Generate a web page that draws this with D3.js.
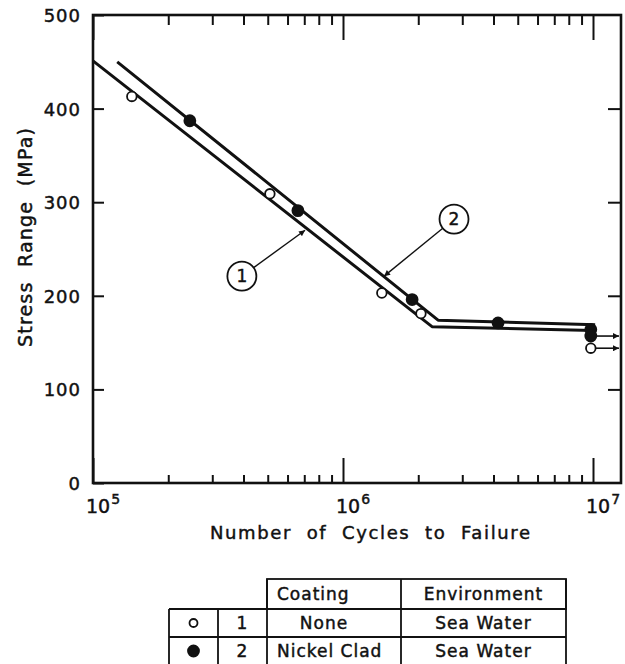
<!DOCTYPE html>
<html>
<head>
<meta charset="utf-8">
<script src="https://cdn.jsdelivr.net/npm/d3@7"></script>
<style>
  body { margin: 0; background: #fff; }
  text { font-family: "DejaVu Sans", sans-serif; fill: #111; stroke: #111; stroke-width: 0.45px; white-space: pre; }
</style>
</head>
<body>
<script>
// fitted S-N lines (cycles, stress MPa)
const line1Cycles = [1e5, 2.27e6, 1e7];
const line1Stress = [451, 167, 163];
const line2Cycles = [1.25e5, 2.4e6, 1.02e7];
const line2Stress = [450, 174, 169];

// test points, 1 = no coating (open), 2 = nickel clad (filled)
const noneCycles = [1.43e5, 5.1e5, 1.43e6, 2.05e6];
const noneStress = [413, 309, 203, 181];
const nickelCycles = [2.44e5, 6.6e5, 1.89e6, 4.17e6, 9.8e6];
const nickelStress = [387, 291, 196, 171, 164];

// run-outs (no failure)
const runoutCycles = [9.8e6, 9.8e6];
const runoutStress = [157, 144];
const runoutFilled = [true, false];

// callouts
const calloutLabels = ["1", "2"];
const calloutCycles = [3.94e5, 2.78e6];
const calloutStress = [221, 282];
const calloutTipCycles = [7.05e5, 1.46e6];
const calloutTipStress = [270, 221];

// axes
const yTicks = [0, 100, 200, 300, 400, 500];
const xMajor = [1e5, 1e6, 1e7];
const xTickExp = ["5", "6", "7"];

// table
const seriesIds = ["1", "2"];
const tableHeaders = ["Coating", "Environment"];
const coatings = ["None", "Nickel Clad"];
const environments = ["Sea Water", "Sea Water"];

const W = 625, H = 664;
const plotLeft = 93, plotTop = 15, plotBottom = 483, frameRight = 621;

const svg = d3.select("body").append("svg")
    .attr("width", W)
    .attr("height", H);

const x = d3.scaleLog().domain([1e5, 1e7]).range([plotLeft, 593]);
const y = d3.scaleLinear().domain([0, 500]).range([plotBottom, plotTop]);

const minor = x.ticks().filter(d => !xMajor.includes(d));

function styleAxis(g) {
  g.select(".domain").remove();
  g.selectAll("line").attr("stroke", "#111").attr("stroke-width", 2);
  g.attr("font-family", "DejaVu Sans, sans-serif").attr("font-size", 18);
}

// bottom ticks
svg.append("g")
    .attr("transform", `translate(0,${plotBottom})`)
    .call(d3.axisBottom(x).tickValues(minor).tickSize(-8).tickFormat(""))
    .call(styleAxis);
svg.append("g")
    .attr("transform", `translate(0,${plotBottom})`)
    .call(d3.axisBottom(x).tickValues(xMajor).tickSize(-25).tickFormat(""))
    .call(styleAxis);

// top ticks
svg.append("g")
    .attr("transform", `translate(0,${plotTop})`)
    .call(d3.axisTop(x).tickValues(minor).tickSize(-10).tickFormat(""))
    .call(styleAxis);
svg.append("g")
    .attr("transform", `translate(0,${plotTop})`)
    .call(d3.axisTop(x).tickValues(xMajor).tickSize(-25).tickFormat(""))
    .call(styleAxis);

// left axis with labels
svg.append("g")
    .attr("transform", `translate(${plotLeft},0)`)
    .call(d3.axisLeft(y).tickValues(yTicks).tickSize(-11).tickPadding(12))
    .call(styleAxis)
    .call(g => g.selectAll("text").attr("letter-spacing", 1).attr("dy", "0.36em"));

// right ticks
svg.append("g")
    .attr("transform", `translate(${frameRight},0)`)
    .call(d3.axisRight(y).tickValues(yTicks.slice(1, -1)).tickSize(-13).tickFormat(""))
    .call(styleAxis);

// frame
svg.append("rect")
    .attr("x", plotLeft).attr("y", plotTop)
    .attr("width", frameRight - plotLeft).attr("height", plotBottom - plotTop)
    .attr("fill", "none").attr("stroke", "#111").attr("stroke-width", 2.6);

// x tick labels 10^n
const xl = svg.append("g").selectAll("text").data(xMajor).join("text")
    .attr("x", d => x(d) - 7)
    .attr("y", 513)
    .attr("font-size", 19);
xl.append("tspan").text("10");
xl.append("tspan").attr("font-size", 14).attr("dy", -9).attr("dx", 1)
    .text((d, i) => xTickExp[i]);

// axis titles
svg.append("text")
    .attr("x", 210).attr("y", 539)
    .attr("font-size", 18)
    .attr("textLength", 320).attr("lengthAdjust", "spacing")
    .text("Number  of  Cycles  to  Failure");

svg.append("text")
    .attr("transform", "translate(32,347) rotate(-90)")
    .attr("font-size", 19)
    .attr("textLength", 219).attr("lengthAdjust", "spacing")
    .text("Stress  Range  (MPa)");

// fitted lines
const line = d3.line().x(d => x(d[0])).y(d => y(d[1]));
[[line1Cycles, line1Stress], [line2Cycles, line2Stress]].forEach(([c, s]) => {
  svg.append("path")
      .attr("d", line(d3.zip(c, s)))
      .attr("fill", "none")
      .attr("stroke", "#111")
      .attr("stroke-width", 3)
      .attr("stroke-linejoin", "round");
});

// arrow markers
const defs = svg.append("defs");
defs.append("marker")
    .attr("id", "arr").attr("viewBox", "0 0 10 10")
    .attr("refX", 10).attr("refY", 5)
    .attr("markerWidth", 7).attr("markerHeight", 6)
    .attr("markerUnits", "userSpaceOnUse")
    .attr("orient", "auto")
  .append("path").attr("d", "M0,0L10,5L0,10Z").attr("fill", "#111");

// run-out arrows
runoutCycles.forEach((c, i) => {
  svg.append("line")
      .attr("x1", x(c) + 5).attr("x2", frameRight - 2)
      .attr("y1", y(runoutStress[i])).attr("y2", y(runoutStress[i]))
      .attr("stroke", "#111").attr("stroke-width", 1.6)
      .attr("marker-end", "url(#arr)");
});

// points
function drawPts(cyc, str, filled) {
  svg.append("g").selectAll("circle").data(d3.zip(cyc, str)).join("circle")
      .attr("cx", d => x(d[0]))
      .attr("cy", d => y(d[1]))
      .attr("r", filled ? 5.5 : 4.8)
      .attr("fill", filled ? "#111" : "#fff")
      .attr("stroke", "#111")
      .attr("stroke-width", 1.8);
}
drawPts(noneCycles, noneStress, false);
drawPts(nickelCycles, nickelStress, true);
drawPts(runoutCycles.filter((d, i) => runoutFilled[i]), runoutStress.filter((d, i) => runoutFilled[i]), true);
drawPts(runoutCycles.filter((d, i) => !runoutFilled[i]), runoutStress.filter((d, i) => !runoutFilled[i]), false);

// callouts
const r = 14.5;
calloutLabels.forEach((lab, i) => {
  const cx = x(calloutCycles[i]), cy = y(calloutStress[i]);
  const tx = x(calloutTipCycles[i]), ty = y(calloutTipStress[i]);
  const a = Math.atan2(ty - cy, tx - cx);
  svg.append("line")
      .attr("x1", cx + r * Math.cos(a)).attr("y1", cy + r * Math.sin(a))
      .attr("x2", tx).attr("y2", ty)
      .attr("stroke", "#111").attr("stroke-width", 1.4)
      .attr("marker-end", "url(#arr)");
  svg.append("circle")
      .attr("cx", cx).attr("cy", cy).attr("r", r)
      .attr("fill", "#fff").attr("stroke", "#111").attr("stroke-width", 1.8);
  svg.append("text")
      .attr("x", cx).attr("y", cy).attr("dy", "0.36em")
      .attr("text-anchor", "middle").attr("font-size", 17)
      .text(lab);
});

// legend table
const cols = [169, 218, 267, 401, 566];
const rowsY = [579, 609, 637, 665];
const tbl = svg.append("g").attr("stroke", "#111").attr("stroke-width", 1.8).attr("fill", "none");
tbl.append("rect").attr("x", cols[2]).attr("y", rowsY[0]).attr("width", cols[4] - cols[2]).attr("height", rowsY[1] - rowsY[0]);
tbl.append("line").attr("x1", cols[3]).attr("x2", cols[3]).attr("y1", rowsY[0]).attr("y2", rowsY[3]);
tbl.append("line").attr("x1", cols[2]).attr("x2", cols[2]).attr("y1", rowsY[0]).attr("y2", rowsY[3]);
tbl.append("line").attr("x1", cols[4]).attr("x2", cols[4]).attr("y1", rowsY[0]).attr("y2", rowsY[3]);
tbl.append("line").attr("x1", cols[0]).attr("x2", cols[0]).attr("y1", rowsY[1]).attr("y2", rowsY[3]);
tbl.append("line").attr("x1", cols[1]).attr("x2", cols[1]).attr("y1", rowsY[1]).attr("y2", rowsY[3]);
[1, 2, 3].forEach(k => tbl.append("line").attr("x1", cols[0]).attr("x2", cols[4]).attr("y1", rowsY[k]).attr("y2", rowsY[k]));

const tText = (tx, ty, s, anchor) => svg.append("text")
    .attr("x", tx).attr("y", ty).attr("dy", "0.36em")
    .attr("text-anchor", anchor).attr("font-size", 17).attr("letter-spacing", 1)
    .text(s);

tText(277, (rowsY[0] + rowsY[1]) / 2, tableHeaders[0], "start");
tText((cols[3] + cols[4]) / 2, (rowsY[0] + rowsY[1]) / 2, tableHeaders[1], "middle");
seriesIds.forEach((id, i) => {
  const cy = (rowsY[i + 1] + rowsY[i + 2]) / 2;
  svg.append("circle")
      .attr("cx", (cols[0] + cols[1]) / 2).attr("cy", cy)
      .attr("r", i === 0 ? 4 : 5.5)
      .attr("fill", i === 0 ? "#fff" : "#111")
      .attr("stroke", "#111").attr("stroke-width", 1.8);
  tText((cols[1] + cols[2]) / 2, cy, id, "middle");
  if (i === 0) tText(324, cy, coatings[i], "middle");
  else tText(277, cy, coatings[i], "start");
  tText((cols[3] + cols[4]) / 2, cy, environments[i], "middle");
});
</script>
</body>
</html>
